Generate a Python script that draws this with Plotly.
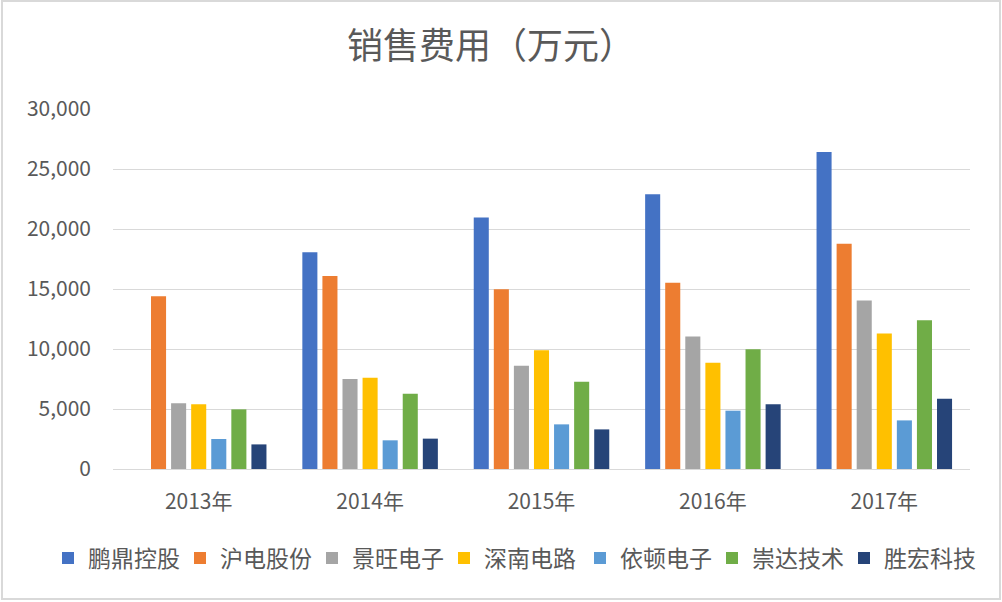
import plotly.graph_objects as go

years = ["2013年", "2014年", "2015年", "2016年", "2017年"]
companies = ["鹏鼎控股", "沪电股份", "景旺电子", "深南电路", "依顿电子", "崇达技术", "胜宏科技"]
pengding = [None, 18060, 20950, 22890, 26420]
hudian = [14400, 16080, 14970, 15530, 18780]
jingwang = [5470, 7500, 8610, 11050, 14050]
shennan = [5390, 7610, 9890, 8860, 11300]
yidun = [2500, 2390, 3720, 4860, 4050]
chongda = [4970, 6280, 7280, 9970, 12390]
shenghong = [2050, 2530, 3300, 5390, 5860]
series = [pengding, hudian, jingwang, shennan, yidun, chongda, shenghong]
colors = ["#4472C4", "#ED7D31", "#A5A5A5", "#FFC000", "#5B9BD5", "#70AD47", "#264478"]
yticks = [0, 5000, 10000, 15000, 20000, 25000, 30000]

FONT = "Noto Sans CJK SC"
W, H = 1002, 602
ML, MR, MT, MB = 113, 32, 109, 133
pw, ph = W - ML - MR, H - MT - MB
ENTRY = 133  # px per legend entry
LEG_X0 = 48  # px

fig = go.Figure()
for i, (name, vals, c) in enumerate(zip(companies, series, colors)):
    fig.add_trace(go.Bar(x=years, y=vals, name=name, marker=dict(color=c, line=dict(width=0)),
                         legend="legend" if i < 4 else "legend2"))

# light frame around the whole chart
fig.add_shape(type="rect", xref="paper", yref="paper",
              x0=(2 - ML) / pw, x1=(W - 2 - ML) / pw,
              y0=-(MB - 3) / ph, y1=1 + (MT - 1) / ph,
              line=dict(color="#D9D9D9", width=2), fillcolor="rgba(0,0,0,0)", layer="below")

leg_common = dict(orientation="h", xref="container", yref="container",
                  xanchor="left", y=1 - 558 / H, yanchor="middle",
                  font=dict(size=23, color="#595959"), itemwidth=30, traceorder="normal",
                  entrywidth=87, entrywidthmode="pixels", bgcolor="rgba(0,0,0,0)")

fig.update_layout(
    width=W, height=H,
    paper_bgcolor="white", plot_bgcolor="white",
    margin=dict(l=ML, r=MR, t=MT, b=MB, autoexpand=False),
    barmode="group", bargap=0.18, bargroupgap=0.25,
    font=dict(family=FONT, color="#595959", size=18),
    title=dict(text="销售费用（万元）", x=0.49, xanchor="center", xref="container",
               y=1 - 46 / H, yanchor="middle", yref="container",
               font=dict(family=FONT, size=36, color="#595959")),
    xaxis=dict(showgrid=False, showline=False, ticks="", ticklabelstandoff=18,
               tickfont=dict(size=21, color="#595959")),
    yaxis=dict(range=[0, 30000], tickvals=yticks, tickformat=",", showgrid=True, gridcolor="#D9D9D9",
               gridwidth=1, zeroline=True, zerolinecolor="#D9D9D9", zerolinewidth=1,
               showline=False, ticks="", ticklabelstandoff=21, tickfont=dict(size=21, color="#595959")),
    legend=dict(x=LEG_X0 / W, **leg_common),
    legend2=dict(x=(LEG_X0 + 4 * ENTRY) / W, **leg_common),
)
fig.write_html("out.html")
